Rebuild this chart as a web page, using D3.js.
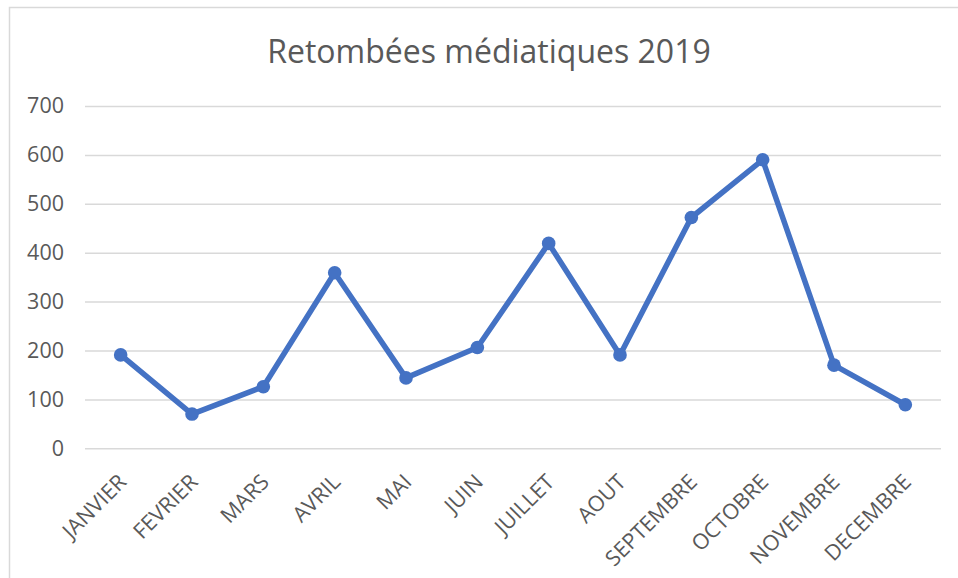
<!DOCTYPE html>
<html><head><meta charset="utf-8">
<script src="https://cdn.jsdelivr.net/npm/d3@7"></script>
<style>
html,body{margin:0;padding:0;background:#fff;}
svg{display:block;font-family:"Open Sans",sans-serif;}
</style></head>
<body>
<script>
const title = "Retombées médiatiques 2019";
const months = ["JANVIER","FEVRIER","MARS","AVRIL","MAI","JUIN","JUILLET","AOUT","SEPTEMBRE","OCTOBRE","NOVEMBRE","DECEMBRE"];
const values = [191, 70, 126, 359, 144, 206, 419, 191, 472, 590, 170, 89];
const yTicks = [0, 100, 200, 300, 400, 500, 600, 700];

const W = 958, H = 578;
const margin = {left: 85, right: 17, top: 106, bottom: 129.7};
const svg = d3.select("body").append("svg").attr("width", W).attr("height", H);

svg.append("rect").attr("x", 9.5).attr("y", 7.5).attr("width", W + 10).attr("height", H + 10)
  .attr("fill", "none").attr("stroke", "#d9d9d9").attr("stroke-width", 1.5);

const x = d3.scaleBand().domain(months).range([margin.left, W - margin.right]);
const y = d3.scaleLinear().domain([0, 700]).range([H - margin.bottom, margin.top]);

// gridlines
const yAxis = d3.axisLeft(y).tickValues(yTicks).tickSize(-(W - margin.right - margin.left)).tickPadding(21);
const gy = svg.append("g").attr("transform", `translate(${margin.left},0)`).call(yAxis);
gy.select(".domain").remove();
gy.selectAll(".tick line").attr("stroke", "#d9d9d9").attr("stroke-width", 1.5);
gy.selectAll(".tick text").attr("fill", "#595959").attr("font-size", 21.5).attr("font-family", "Open Sans, sans-serif");

// x axis labels
const xAxis = d3.axisBottom(x).tickSize(0).tickPadding(0);
const gx = svg.append("g").attr("transform", `translate(0,${y(0)})`).call(xAxis);
gx.select(".domain").remove();
gx.selectAll(".tick text")
  .attr("fill", "#595959").attr("font-size", 21.5).attr("font-family", "Open Sans, sans-serif")
  .attr("text-anchor", "end").attr("dy", null).attr("y", 0)
  .attr("transform", "translate(3,31) rotate(-45)")
  .attr("dominant-baseline", "middle");

// line
const line = d3.line().x((d, i) => x(months[i]) + x.bandwidth() / 2).y(d => y(d));
svg.append("path").datum(values).attr("d", line)
  .attr("fill", "none").attr("stroke", "#4472C4").attr("stroke-width", 5.5)
  .attr("stroke-linejoin", "round");
svg.selectAll("circle.pt").data(values).enter().append("circle")
  .attr("class", "pt")
  .attr("cx", (d, i) => x(months[i]) + x.bandwidth() / 2)
  .attr("cy", d => y(d))
  .attr("r", 6.8).attr("fill", "#4472C4");

svg.append("text").attr("x", 489).attr("y", 63).attr("text-anchor", "middle")
  .attr("font-size", 32).attr("fill", "#595959").text(title);
</script>
</body></html>
